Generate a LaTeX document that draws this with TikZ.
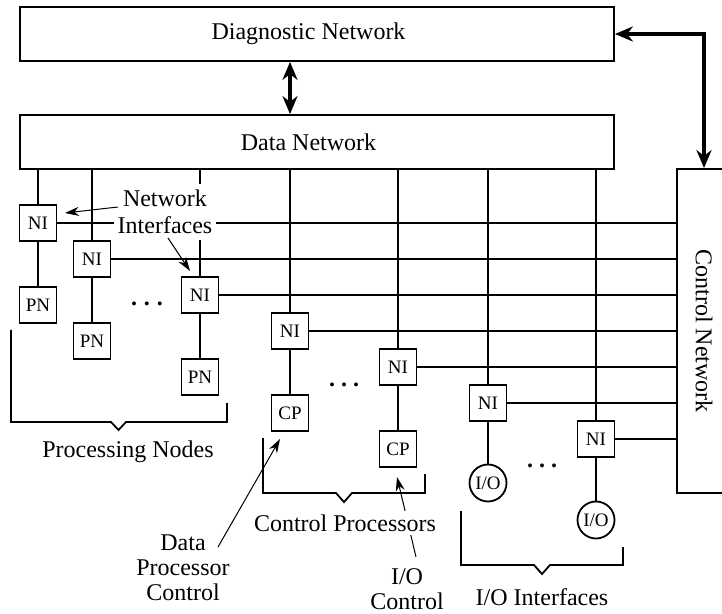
\documentclass[tikz,border=0pt]{standalone}
\usepackage{fontspec}
\setmainfont{Liberation Serif}
\usetikzlibrary{arrows.meta,calc}
\newcommand{\dmain}{\fontsize{12}{12.5}\selectfont}
\newcommand{\dsmall}{\fontsize{9.5}{10}\selectfont}
\begin{document}
\begin{tikzpicture}[x=0.5pt,y=-0.5pt,line width=0.9pt,
  bigbox/.style={draw,minimum width=297pt,minimum height=27pt,inner sep=0pt},
  sbox/.style={draw,fill=white,minimum width=18.5pt,minimum height=18pt,inner sep=0pt,font=\dsmall},
  iocirc/.style={draw,fill=white,circle,minimum size=18.5pt,inner sep=0pt,font=\dsmall},
  thickarrow/.style={line width=1.7pt,{Stealth[length=9pt,width=7.5pt]}-{Stealth[length=9pt,width=7.5pt]}},
  pointer/.style={line width=0.5pt,-{Stealth[length=7pt,width=4.5pt]}},
  lbl/.style={font=\dmain,align=center,inner sep=1pt},
  dotsty/.style={font=\dmain\bfseries,anchor=base,inner sep=0pt}]
\useasboundingbox (0,0) rectangle (722,614);

% networks
\node[bigbox,label={[xshift=-4.25pt,font=\dmain]center:Diagnostic Network}] (diag) at (317,34) {};
\node[bigbox,label={[xshift=-4.25pt,font=\dmain]center:Data Network}] (data) at (317,142) {};
\node[draw,minimum width=27pt,minimum height=162pt,inner sep=0pt,
      label={[rotate=-90,font=\dmain,xshift=0pt,yshift=0pt]center:Control Network}] (ctrl) at (704,331) {};

% interface columns
\node[sbox] (ni1) at (38,223) {NI};
\node[sbox] (pn1) at (38,305) {PN};
\node[sbox] (ni2) at (92,259) {NI};
\node[sbox] (pn2) at (92,341) {PN};
\node[sbox] (ni3) at (200,295) {NI};
\node[sbox] (pn3) at (200,377) {PN};
\node[sbox] (ni4) at (290,331) {NI};
\node[sbox] (cp1) at (290,413) {CP};
\node[sbox] (ni5) at (398,367) {NI};
\node[sbox] (cp2) at (398,449) {CP};
\node[sbox] (ni6) at (488,403) {NI};
\node[iocirc] (io1) at (488,483) {I/O};
\node[sbox] (ni7) at (596,439) {NI};
\node[iocirc] (io2) at (596,520) {I/O};

% links
\foreach \n in {ni1,ni2,ni3,ni4,ni5,ni6,ni7}{
  \draw (\n.north) -- (\n.north |- data.south);
  \draw (\n.east) -- (\n.east -| ctrl.west);
}
\draw (ni1.south) -- (pn1.north);
\draw (ni2.south) -- (pn2.north);
\draw (ni3.south) -- (pn3.north);
\draw (ni4.south) -- (cp1.north);
\draw (ni5.south) -- (cp2.north);
\draw (ni6.south) -- (io1.north);
\draw (ni7.south) -- (io2.north);

% thick arrows
\draw[thickarrow] (diag.south -| ni4.center) -- (data.north -| ni4.center);
\draw[thickarrow] (diag.east) -| (ctrl.north);

% network interfaces label
\node[lbl,fill=white,inner xsep=2pt,inner ysep=3pt,font=\fontsize{12}{13.5}\selectfont] (nilbl) at (165,212) {Network\\Interfaces};
\coordinate (p1s) at (118,207);
\coordinate (p1e) at (65,213);
\draw[pointer] (p1s) -- (p1e);
\coordinate (p2s) at (168,238);
\coordinate (p2e) at (190,271);
\draw[pointer] (p2s) -- (p2e);

% dots
\node[dotsty] (d1) at (147,305.5) {.\hspace{3.4pt}.\hspace{3.4pt}.};
\node[dotsty] (d2) at (344,386.5) {.\hspace{3pt}.\hspace{3pt}.};
\node[dotsty] (d3) at (542,467.5) {.\hspace{3pt}.\hspace{3pt}.};

% brackets
\draw (11,330) -- (11,422) -- (111,422) -- (118.5,430) -- (126,422) -- (227,422) -- (227,403);
\draw (263,438) -- (263,493) -- (336,493) -- (344,502) -- (352,493) -- (425,493) -- (425,474);
\draw (461,511) -- (461,565) -- (534,565) -- (542,574) -- (550,565) -- (623,565) -- (623,547);

% bottom labels
\node[lbl] (pnlbl) at (128,452) {Processing Nodes};
\node[lbl] (dpc) at (183,568) {Data\\Processor\\Control};
\coordinate (p3s) at (218,547);
\coordinate (p3e) at (280,439);
\draw[pointer] (p3s) -- (p3e);
\coordinate (p4s) at (416,557);
\coordinate (p4e) at (397,477);
\draw[pointer] (p4s) -- (p4e);
\node[lbl,fill=white,inner sep=2pt] (cplbl) at (345,523) {Control Processors};
\node[lbl] (ioc) at (407,589.5) {I/O\\Control};
\node[lbl] (iolbl) at (542,597) {I/O Interfaces};
\end{tikzpicture}
\end{document}
